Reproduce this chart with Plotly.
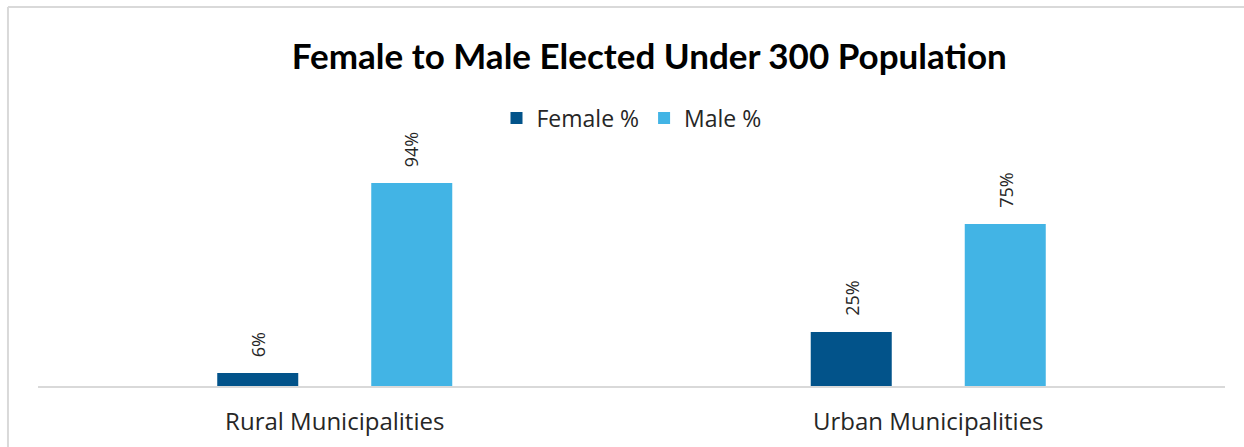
import plotly.graph_objects as go

categories = ["Rural Municipalities", "Urban Municipalities"]
female_pct = [6, 25]
male_pct = [94, 75]

FEMALE_COLOR = "#02538A"
MALE_COLOR = "#42B4E5"
TITLE_FONT = "Lato, 'Open Sans', sans-serif"
BODY_FONT = "'Open Sans', sans-serif"

fig = go.Figure()
fig.add_trace(go.Bar(name="Female %", x=categories, y=female_pct,
                     marker=dict(color=FEMALE_COLOR, line=dict(width=0))))
fig.add_trace(go.Bar(name="Male %", x=categories, y=male_pct,
                     marker=dict(color=MALE_COLOR, line=dict(width=0))))

# rotated value labels above each bar
annotations = []
for vals, shift in ((female_pct, -77), (male_pct, 77)):
    for cat, v in zip(categories, vals):
        annotations.append(dict(
            x=cat, y=v, xref="x", yref="y", text=f"{v}%", showarrow=False,
            textangle=-90, xanchor="center", yanchor="bottom",
            xshift=shift, yshift=14,
            font=dict(family=BODY_FONT, size=18, color="#262626")))

# light frame around the chart area (left and top edges)
frame = dict(type="line", xref="paper", yref="paper",
             line=dict(color="#D9D9D9", width=2))
shapes = [
    dict(frame, x0=-0.0253, x1=-0.0253, y0=-0.3, y1=1.7546),
    dict(frame, x0=-0.0253, x1=1.02, y0=1.7546, y1=1.7546),
]

fig.update_layout(
    width=1244, height=447,
    margin=dict(l=38, r=19, t=170, b=61, autoexpand=False),
    paper_bgcolor="white", plot_bgcolor="white",
    barmode="group", bargap=0.481, bargroupgap=0.474,
    title=dict(text="<b>Female to Male Elected Under 300 Population</b>",
               x=0.522, xref="container", xanchor="center",
               y=0.872, yref="container", yanchor="middle",
               font=dict(family=TITLE_FONT, size=35, color="#000000")),
    legend=dict(orientation="h", x=0.5, xanchor="center", y=1.24,
                yanchor="middle", itemwidth=30,
                font=dict(family=BODY_FONT, size=23, color="#262626"),
                bgcolor="rgba(0,0,0,0)"),
    xaxis=dict(showline=True, linecolor="#D9D9D9", linewidth=2,
               ticks="outside", ticklen=13, tickcolor="white",
               automargin=False,
               tickfont=dict(family=BODY_FONT, size=24, color="#262626"),
               showgrid=False),
    yaxis=dict(range=[0, 100], visible=False, showgrid=False,
               automargin=False),
    annotations=annotations,
    shapes=shapes,
    showlegend=True,
)

fig.write_html("out.html")
